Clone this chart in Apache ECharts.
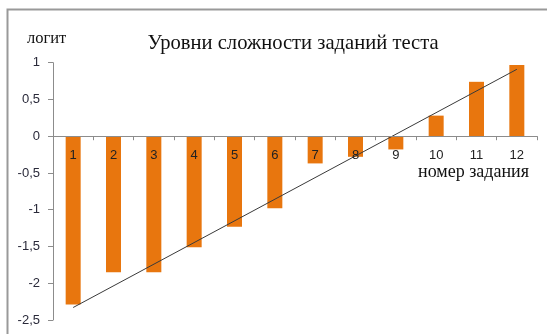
<!DOCTYPE html>
<html>
<head>
<meta charset="utf-8">
<script src="https://cdn.jsdelivr.net/npm/echarts@6/dist/echarts.min.js"></script>
<style>
html,body{margin:0;padding:0;background:#fff;}
#chart{width:547px;height:334px;}
</style>
</head>
<body>
<div id="chart"></div>
<script>
const categories = ['1','2','3','4','5','6','7','8','9','10','11','12'];
const difficulty = [-2.29, -1.85, -1.85, -1.51, -1.23, -0.98, -0.37, -0.28, -0.18, 0.28, 0.74, 0.97];
const trendCategories = ['1','12'];
const trendValues = [-2.33, 0.91];
const yTicks = [-2.5, -2, -1.5, -1, -0.5, 0, 0.5, 1];
const titleText = 'Уровни сложности заданий теста';
const yName = 'логит';
const xName = 'номер задания';

const chart = echarts.init(document.getElementById('chart'));
const serif = '"Liberation Serif", "Times New Roman", serif';
const sans = '"Liberation Sans", Arial, sans-serif';

const gridTop = 62.7, gridBottom = 14, H = 334;
const yMin = yTicks[0], yMax = yTicks[yTicks.length - 1];
const plotH = H - gridTop - gridBottom;
const zeroFromBottom = plotH * (0 - yMin) / (yMax - yMin);

chart.setOption({
  animation: false,
  backgroundColor: '#fff',
  title: {
    text: titleText,
    left: 288, top: 28, textAlign: 'center',
    textStyle: {fontFamily: serif, fontSize: 20.6, fontWeight: 'normal', color: '#111'}
  },
  graphic: [
    {type: 'rect', shape: {x: 7.5, y: 9.5, width: 560, height: 340}, style: {fill: 'none', stroke: '#999999', lineWidth: 2}, silent: true},
    {type: 'text', left: 27, top: 30, style: {text: yName, font: '16.5px ' + serif, fill: '#111'}},
    {type: 'text', left: 418, top: 163, style: {text: xName, font: '18px ' + serif, fill: '#111'}}
  ],
  grid: {left: 53, right: 10, top: gridTop, bottom: gridBottom, containLabel: false},
  xAxis: {
    type: 'category',
    data: categories,
    z: 5,
    position: 'bottom',
    offset: -zeroFromBottom,
    axisLine: {onZero: false, lineStyle: {color: '#8c8c8c', width: 1}},
    axisTick: {show: true, length: 4, lineStyle: {color: '#8c8c8c'}},
    axisLabel: {margin: 13, fontFamily: sans, fontSize: 13, color: '#222'}
  },
  yAxis: {
    type: 'value',
    min: yMin, max: yMax, interval: 0.5,
    splitLine: {show: false},
    axisLine: {show: true, lineStyle: {color: '#8c8c8c'}},
    axisTick: {show: true, length: 5, lineStyle: {color: '#8c8c8c'}},
    axisLabel: {
      margin: 13, fontFamily: sans, fontSize: 13, color: '#2a2a3a',
      formatter: v => String(v).replace('.', ',')
    }
  },
  series: [
    {
      type: 'bar',
      data: difficulty,
      barWidth: 15,
      itemStyle: {color: '#E8760E'},
      z: 2
    },
    {
      type: 'line',
      data: trendCategories.map((c, i) => [c, trendValues[i]]),
      symbol: 'none',
      lineStyle: {color: '#3a3a3a', width: 1},
      z: 3
    }
  ]
});
</script>
</body>
</html>
